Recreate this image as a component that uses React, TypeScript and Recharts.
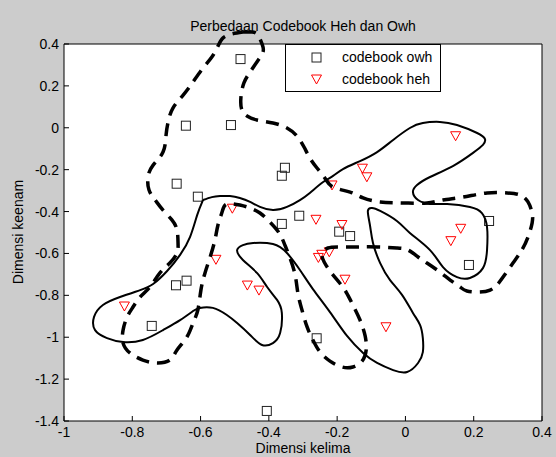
import React from 'react';
import { ScatterChart, Scatter, XAxis, YAxis, CartesianGrid, Legend } from 'recharts';

const xTicks = [-1, -0.8, -0.6, -0.4, -0.2, 0, 0.2, 0.4];
const yTicks = [-1.4, -1.2, -1, -0.8, -0.6, -0.4, -0.2, 0, 0.2, 0.4];

// codebook owh (squares)
const owhPoints: number[][] = [
  [-0.483, 0.328], [-0.643, 0.010], [-0.511, 0.013], [-0.353, -0.191], [-0.362, -0.229],
  [-0.670, -0.267], [-0.608, -0.329], [-0.311, -0.420], [-0.362, -0.459], [-0.641, -0.730],
  [-0.672, -0.752], [-0.743, -0.946], [-0.406, -1.352], [-0.194, -0.496], [-0.162, -0.517],
  [0.245, -0.445], [0.186, -0.655], [-0.260, -1.005],
];

// codebook heh (triangles)
const hehPoints: number[][] = [
  [-0.507, -0.384], [0.147, -0.038], [-0.126, -0.193], [-0.113, -0.234], [-0.215, -0.273],
  [-0.262, -0.437], [-0.186, -0.462], [-0.255, -0.619], [-0.245, -0.604], [-0.223, -0.592],
  [-0.177, -0.723], [-0.057, -0.950], [0.162, -0.480], [0.133, -0.539], [-0.555, -0.628],
  [-0.463, -0.751], [-0.429, -0.775], [-0.823, -0.851],
];

// hand drawn solid outline
const solidOutline: number[][] = [
  [-0.593, -0.345], [-0.567, -0.331], [-0.543, -0.326], [-0.514, -0.326], [-0.485, -0.335],
  [-0.455, -0.354], [-0.426, -0.378], [-0.388, -0.393], [-0.347, -0.378], [-0.309, -0.345],
  [-0.280, -0.311], [-0.241, -0.259], [-0.212, -0.230], [-0.183, -0.197], [-0.133, -0.159],
  [-0.083, -0.116], [-0.036, -0.058], [0.013, -0.001], [0.051, 0.023], [0.101, 0.028],
  [0.151, 0.013], [0.210, -0.025], [0.233, -0.054], [0.227, -0.082], [0.198, -0.120],
  [0.139, -0.183], [0.072, -0.235], [0.034, -0.273], [0.022, -0.307], [0.037, -0.345],
  [0.072, -0.364], [0.122, -0.364], [0.189, -0.378], [0.224, -0.407], [0.239, -0.474],
  [0.239, -0.584], [0.227, -0.670], [0.189, -0.717], [0.151, -0.713], [0.110, -0.665],
  [0.072, -0.584], [0.013, -0.502], [-0.025, -0.445], [-0.074, -0.397], [-0.098, -0.383],
  [-0.110, -0.397], [-0.104, -0.464], [-0.095, -0.550], [-0.074, -0.646], [-0.045, -0.727],
  [-0.010, -0.798], [0.022, -0.884], [0.043, -0.942], [0.051, -1.004], [0.051, -1.071],
  [0.037, -1.123], [0.005, -1.166], [-0.036, -1.157], [-0.083, -1.123], [-0.124, -1.075],
  [-0.171, -0.994], [-0.221, -0.880], [-0.271, -0.770], [-0.309, -0.679], [-0.347, -0.598],
  [-0.388, -0.555], [-0.446, -0.550], [-0.476, -0.560], [-0.493, -0.584], [-0.476, -0.631],
  [-0.435, -0.693], [-0.405, -0.760], [-0.376, -0.822], [-0.362, -0.884], [-0.367, -0.980],
  [-0.388, -1.028], [-0.420, -1.037], [-0.455, -0.989], [-0.493, -0.932], [-0.523, -0.894],
  [-0.564, -0.860], [-0.602, -0.860], [-0.622, -0.875], [-0.660, -0.918], [-0.710, -0.966],
  [-0.769, -1.013], [-0.827, -1.023], [-0.874, -1.004], [-0.909, -0.966], [-0.912, -0.903],
  [-0.886, -0.846], [-0.836, -0.808], [-0.777, -0.775], [-0.739, -0.746], [-0.698, -0.684],
  [-0.660, -0.607], [-0.631, -0.522], [-0.610, -0.417], [-0.593, -0.345],
];

// hand drawn dashed outline
const dashedOutline: number[][] = [
  [-0.476, 0.457], [-0.449, 0.457], [-0.432, 0.443], [-0.420, 0.400], [-0.417, 0.362],
  [-0.435, 0.314], [-0.455, 0.266], [-0.473, 0.214], [-0.482, 0.142], [-0.479, 0.085],
  [-0.464, 0.056], [-0.435, 0.037], [-0.388, 0.023], [-0.347, -0.001], [-0.318, -0.039],
  [-0.297, -0.092], [-0.280, -0.144], [-0.259, -0.192], [-0.236, -0.240], [-0.212, -0.283],
  [-0.162, -0.307], [-0.124, -0.335], [-0.074, -0.354], [-0.007, -0.359], [0.063, -0.359],
  [0.110, -0.345], [0.169, -0.331], [0.239, -0.311], [0.298, -0.311], [0.336, -0.321],
  [0.359, -0.354], [0.371, -0.407], [0.371, -0.455], [0.359, -0.522], [0.341, -0.584],
  [0.315, -0.646], [0.286, -0.713], [0.268, -0.751], [0.248, -0.775], [0.218, -0.784],
  [0.180, -0.779], [0.160, -0.760], [0.131, -0.727], [0.101, -0.689], [0.063, -0.646],
  [0.037, -0.617], [0.008, -0.584], [-0.025, -0.574], [-0.083, -0.569], [-0.142, -0.569],
  [-0.192, -0.569], [-0.227, -0.574], [-0.244, -0.603], [-0.238, -0.641], [-0.221, -0.684],
  [-0.197, -0.732], [-0.174, -0.784], [-0.154, -0.846], [-0.133, -0.918], [-0.118, -0.994],
  [-0.115, -1.061], [-0.127, -1.114], [-0.154, -1.142], [-0.186, -1.142], [-0.221, -1.114],
  [-0.250, -1.071], [-0.271, -1.013], [-0.288, -0.951], [-0.303, -0.870], [-0.315, -0.789],
  [-0.323, -0.703], [-0.338, -0.622], [-0.353, -0.560], [-0.370, -0.502], [-0.397, -0.450],
  [-0.426, -0.407], [-0.455, -0.383], [-0.485, -0.369], [-0.523, -0.364], [-0.537, -0.402],
  [-0.549, -0.464], [-0.558, -0.536], [-0.572, -0.617], [-0.587, -0.693], [-0.599, -0.775],
  [-0.608, -0.870], [-0.622, -0.932], [-0.640, -0.999], [-0.669, -1.061], [-0.690, -1.109],
  [-0.728, -1.123], [-0.769, -1.109], [-0.807, -1.075], [-0.827, -1.028], [-0.827, -0.966],
  [-0.815, -0.903], [-0.798, -0.856], [-0.777, -0.808], [-0.748, -0.760], [-0.719, -0.693],
  [-0.690, -0.646], [-0.669, -0.598], [-0.666, -0.550], [-0.669, -0.488], [-0.684, -0.440],
  [-0.710, -0.393], [-0.733, -0.345], [-0.751, -0.297], [-0.754, -0.235], [-0.739, -0.178],
  [-0.710, -0.116], [-0.701, -0.034], [-0.695, 0.028], [-0.681, 0.094], [-0.651, 0.156],
  [-0.622, 0.219], [-0.593, 0.285], [-0.567, 0.338], [-0.549, 0.390], [-0.534, 0.429],
  [-0.508, 0.448], [-0.476, 0.457],
];

const toXY = (pts: number[][]) => pts.map(([x, y]) => ({ x, y }));

const FONT = '"Liberation Sans", Arial, Helvetica, sans-serif';
const tickStyle = { fill: '#000', fontSize: 14, fontFamily: FONT };

const SquareMark = (props: any) => {
  const { cx, cy } = props;
  return <rect x={cx - 4.5} y={cy - 4.5} width={9} height={9} fill="none" stroke="#222" strokeWidth={1} />;
};

const TriangleMark = (props: any) => {
  const { cx, cy } = props;
  return (
    <polygon
      points={`${cx - 5},${cy - 4} ${cx + 5},${cy - 4} ${cx},${cy + 5}`}
      fill="none"
      stroke="#ff0000"
      strokeWidth={1}
    />
  );
};

const NoMark = () => <g />;

const LegendBox = () => (
  <svg width={156} height={48} style={{ display: 'block' }}>
    <rect x={0.5} y={0.5} width={155} height={47} fill="#fff" stroke="#000" />
    <SquareMark cx={31.5} cy={13.5} />
    <text x={57} y={18} fontSize={14} fontFamily={FONT} fill="#000">codebook owh</text>
    <TriangleMark cx={31.5} cy={35} />
    <text x={57} y={40} fontSize={14} fontFamily={FONT} fill="#000">codebook heh</text>
  </svg>
);

export default function App() {
  return (
    <div style={{ position: 'absolute', left: 0, top: 0, width: 556, height: 457, background: '#cccccc', overflow: 'hidden' }}>
      <style>{'.outline-curve{clip-path:none !important;}'}</style>
      <ScatterChart width={556} height={457} margin={{ top: 43, right: 13, bottom: 0, left: 0 }}>
        <CartesianGrid horizontal={false} vertical={false} fill="#ffffff" fillOpacity={1} />
        <XAxis
          type="number"
          dataKey="x"
          domain={[-1, 0.4]}
          ticks={xTicks}
          allowDataOverflow
          interval={0}
          height={36}
          tickSize={-5}
          tickMargin={11}
          stroke="#000"
          tick={tickStyle}
          tickFormatter={(v: number) => String(v)}
        />
        <XAxis
          xAxisId="top"
          orientation="top"
          type="number"
          dataKey="x"
          domain={[-1, 0.4]}
          ticks={xTicks}
          allowDataOverflow
          interval={0}
          height={1}
          tickSize={-5}
          tick={false}
          stroke="#000"
        />
        <YAxis
          type="number"
          dataKey="y"
          domain={[-1.4, 0.4]}
          ticks={yTicks}
          allowDataOverflow
          interval={0}
          width={64}
          tickSize={-5}
          tickMargin={10}
          stroke="#000"
          tick={tickStyle}
          tickFormatter={(v: number) => String(v)}
        />
        <YAxis
          yAxisId="right"
          orientation="right"
          type="number"
          dataKey="y"
          domain={[-1.4, 0.4]}
          ticks={yTicks}
          allowDataOverflow
          interval={0}
          width={1}
          tickSize={-5}
          tick={false}
          stroke="#000"
        />
        <Legend
          layout="horizontal"
          verticalAlign="middle"
          align="center"
          content={<LegendBox />}
          wrapperStyle={{ left: 285, top: 44, width: 156, height: 48 }}
        />
        <Scatter name="codebook owh" data={toXY(owhPoints)} shape={SquareMark} isAnimationActive={false} />
        <Scatter name="codebook heh" data={toXY(hehPoints)} shape={TriangleMark} isAnimationActive={false} />
        <Scatter
          className="outline-curve"
          data={toXY(solidOutline)}
          shape={NoMark}
          line={{ stroke: '#000', strokeWidth: 2 }}
          lineJointType="natural"
          isAnimationActive={false}
        />
        <Scatter
          className="outline-curve"
          data={toXY(dashedOutline)}
          shape={NoMark}
          line={{ stroke: '#000', strokeWidth: 3.5, strokeDasharray: '13 8' }}
          lineJointType="natural"
          isAnimationActive={false}
        />
      </ScatterChart>
      <svg width={556} height={457} style={{ position: 'absolute', left: 0, top: 0, pointerEvents: 'none' }}>
        <text x={303} y={31} textAnchor="middle" fontSize={14} fontFamily={FONT} fill="#000">
          Perbedaan Codebook Heh dan Owh
        </text>
        <text x={303} y={453} textAnchor="middle" fontSize={14} fontFamily={FONT} fill="#000">
          Dimensi kelima
        </text>
        <text x={-232} y={23} transform="rotate(-90)" textAnchor="middle" fontSize={14} fontFamily={FONT} fill="#000">
          Dimensi keenam
        </text>
      </svg>
    </div>
  );
}
